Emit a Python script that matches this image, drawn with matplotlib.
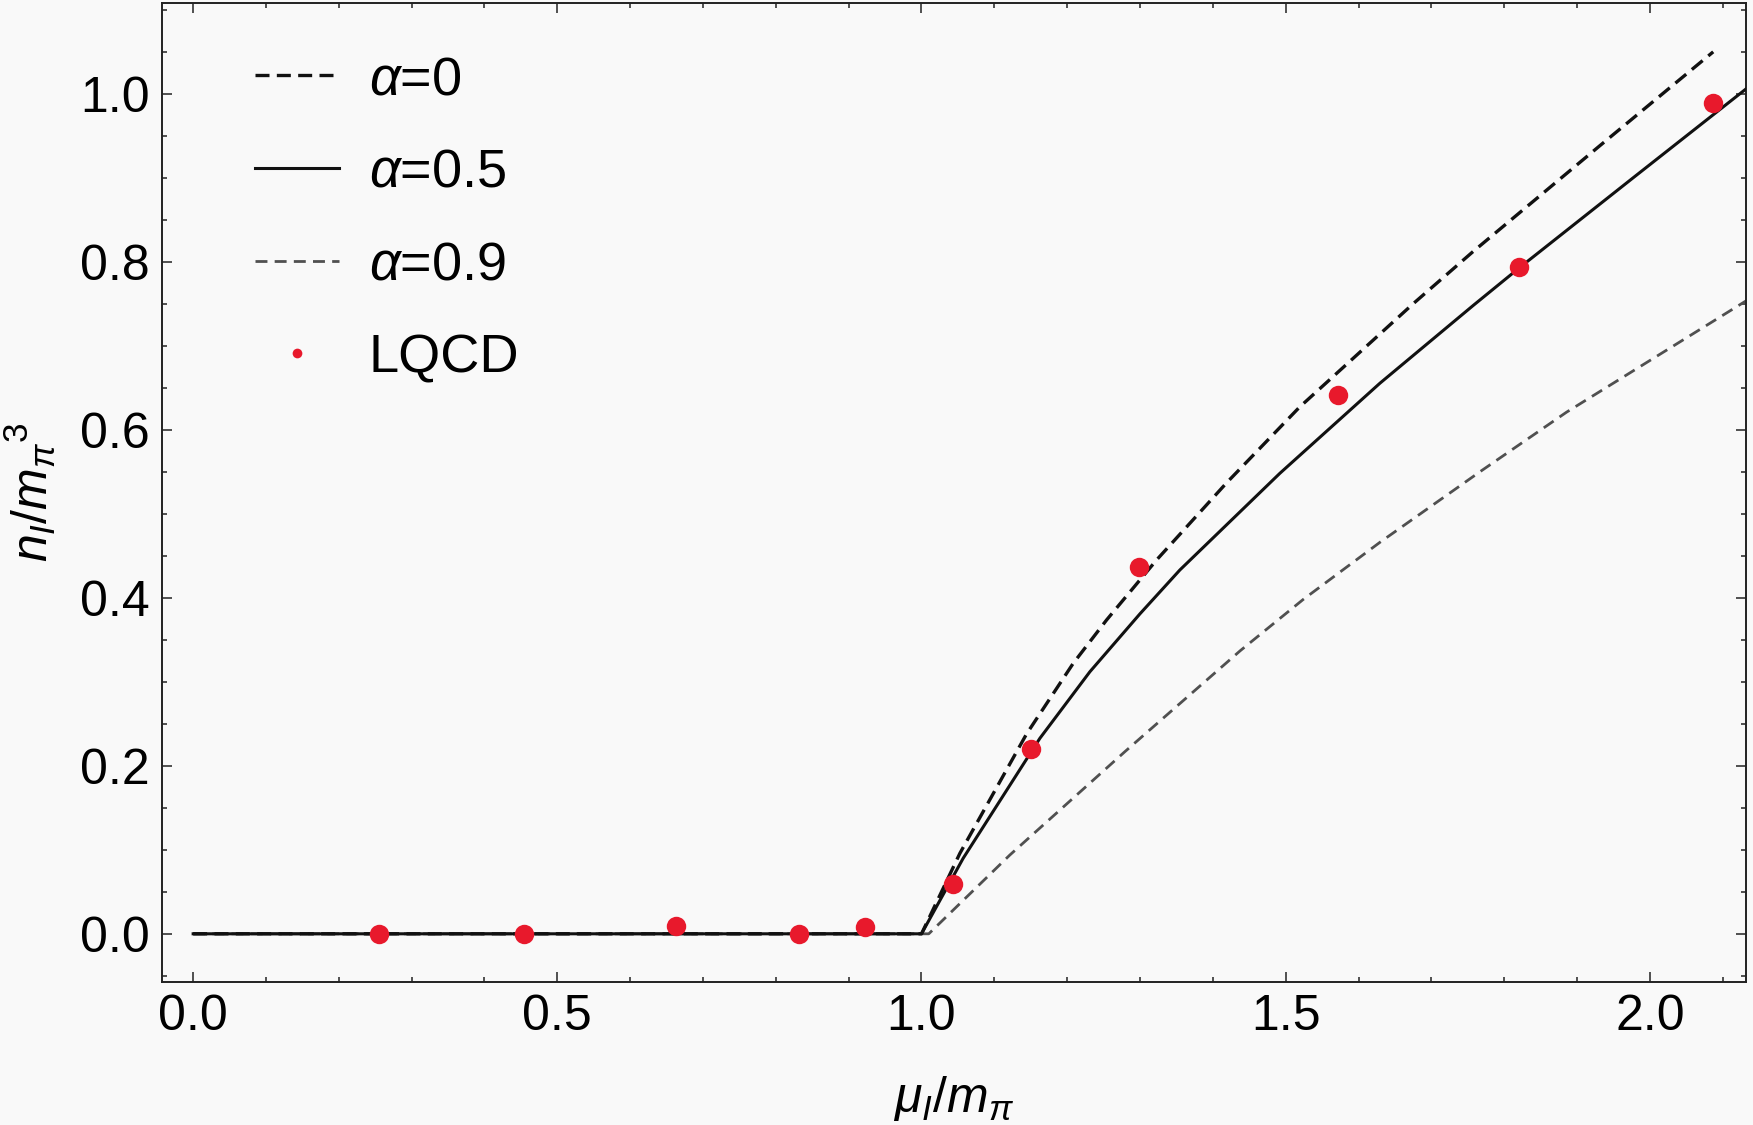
import matplotlib
matplotlib.use('Agg')
import matplotlib.pyplot as plt
from matplotlib.ticker import MultipleLocator

plt.rcParams['font.family'] = ['Liberation Sans', 'DejaVu Sans']
plt.rcParams['mathtext.fontset'] = 'custom'
plt.rcParams['mathtext.rm'] = 'Liberation Sans'
plt.rcParams['mathtext.it'] = 'Liberation Sans:italic'

# curves (mu_I/m_pi, n_I/m_pi^3)
x_a0 = [0.0, 1.0, 1.0527, 1.1443, 1.2083, 1.2541, 1.3227, 1.419, 1.519, 1.6749, 1.757, 1.931, 2.087]
y_a0 = [0.0, 0.0, 0.0958, 0.238, 0.322, 0.3736, 0.445, 0.537, 0.627, 0.750, 0.812, 0.938, 1.050]

x_a05 = [0.0, 1.0, 1.0572, 1.1625, 1.2312, 1.300, 1.3547, 1.492, 1.6293, 1.7574, 1.821, 1.977, 2.133]
y_a05 = [0.0, 0.0, 0.0899, 0.2327, 0.312, 0.381, 0.4331, 0.5482, 0.6554, 0.748, 0.793, 0.900, 1.0065]

x_a09 = [0.0, 1.01, 1.1213, 1.2792, 1.4376, 1.524, 1.6293, 1.7666, 1.8856, 2.133]
y_a09 = [0.0, 0.0, 0.0938, 0.2168, 0.337, 0.398, 0.466, 0.550, 0.621, 0.754]

# lattice QCD points
x_lqcd = [0.2556, 0.4545, 0.6626, 0.832, 0.9227, 1.0435, 1.150, 1.2985, 1.572, 1.821, 2.087]
y_lqcd = [0.0, 0.0, 0.009, 0.0, 0.008, 0.0593, 0.2196, 0.437, 0.641, 0.794, 0.989]

bg = '#f9f9f9'
fig = plt.figure(figsize=(17.53, 11.25), dpi=100, facecolor=bg)
ax = fig.add_axes([0.0924, 0.1274, 0.9036, 0.8696], facecolor=bg)

ax.plot(x_a09, y_a09, color='#505050', lw=2.0, dashes=(4.3, 2.6), label=r'$\alpha$=0.9', zorder=2)
ax.plot(x_a0, y_a0, color='#111111', lw=2.4, dashes=(4.2, 2.2), label=r'$\alpha$=0', zorder=3)
ax.plot(x_a05, y_a05, color='#111111', lw=2.2, label=r'$\alpha$=0.5', zorder=3)
ax.plot(x_lqcd, y_lqcd, 'o', color='#e8192c', ms=14, mec='none', label='LQCD', zorder=4)

handles, labels = ax.get_legend_handles_labels()
order = [1, 2, 0, 3]
leg = ax.legend([handles[i] for i in order], [labels[i] for i in order],
                loc='upper left', bbox_to_anchor=(0.028, 0.997), frameon=False,
                fontsize=39, handlelength=1.55, handletextpad=0.55,
                labelspacing=0.79, markerscale=0.5)

ax.set_xlim(-0.0428, 2.132)
ax.set_ylim(-0.057, 1.1077)
ax.xaxis.set_major_locator(MultipleLocator(0.5))
ax.xaxis.set_minor_locator(MultipleLocator(0.1))
ax.yaxis.set_major_locator(MultipleLocator(0.2))
ax.yaxis.set_minor_locator(MultipleLocator(0.05))
ax.tick_params(which='both', direction='in', top=True, right=True, width=1.1, color='#222222')
ax.tick_params(which='major', length=7, labelsize=36, pad=9)
ax.tick_params(which='minor', length=3.5)
for s in ax.spines.values():
    s.set_linewidth(1.4)
    s.set_color('#222222')

ax.set_xlabel(r'$\mu_I/m_\pi$', fontsize=36, labelpad=24)
ax.set_ylabel(r'$n_I/m_\pi{}^{3}$', fontsize=36, labelpad=16)

fig.savefig('out.png', dpi=100, facecolor=bg)
